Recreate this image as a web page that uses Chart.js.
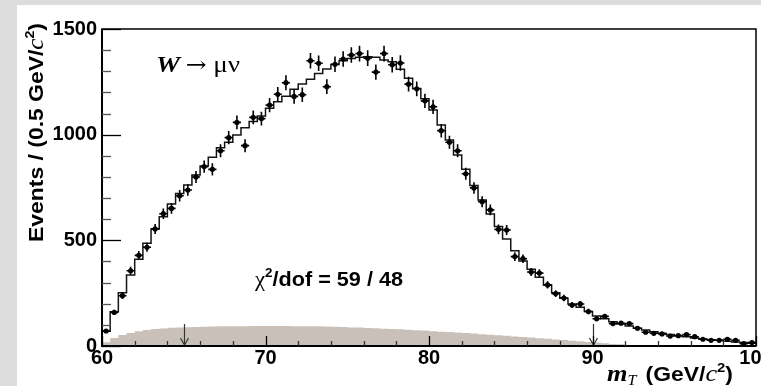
<!DOCTYPE html>
<html>
<head>
<meta charset="utf-8">
<script src="https://cdn.jsdelivr.net/npm/chart.js@4.4.1/dist/chart.umd.min.js"></script>
<style>
html, body { margin: 0; padding: 0; background: #dddddd; }
#wrap { width: 761px; height: 386px; }
</style>
</head>
<body>
<div id="wrap"><canvas id="mt" width="761" height="386"></canvas></div>
<script>
// axis range and binning (0.5 GeV bins)
var xMin = 60, xMax = 100, binWidth = 0.5;
var yMin = 0, yMax = 1500;
var xMajorTicks = [60, 70, 80, 90, 100];
var yMajorTicks = [0, 500, 1000, 1500];
var cutArrows = [65, 90];

// data, events per bin
var dataCounts = [
  71, 159, 238, 356, 429, 467, 554, 626, 651, 711,
  738, 800, 849, 836, 924, 986, 1058, 948, 1082, 1076,
  1140, 1191, 1246, 1181, 1189, 1350, 1338, 1227, 1333, 1358,
  1377, 1384, 1362, 1296, 1384, 1331, 1339, 1239, 1217, 1160,
  1132, 1019, 964, 924, 815, 748, 683, 644, 552, 549,
  423, 413, 350, 345, 289, 248, 227, 194, 199, 163,
  129, 140, 106, 108, 106, 84, 65, 60, 57, 47,
  49, 54, 44, 32, 27, 27, 32, 27, 11, 16
];

// simulation (histogram)
var mcCounts = [
  70, 162, 252, 336, 410, 486, 554, 612, 672, 722,
  762, 809, 852, 893, 938, 964, 998, 1033, 1062, 1088,
  1125, 1156, 1182, 1215, 1240, 1262, 1290, 1311, 1332, 1350,
  1360, 1366, 1369, 1366, 1353, 1345, 1309, 1267, 1219, 1170,
  1117, 1046, 975, 904, 836, 760, 691, 625, 565, 506,
  451, 402, 363, 325, 289, 252, 226, 199, 183, 163,
  142, 129, 115, 104, 95, 84, 76, 68, 60, 54,
  49, 44, 38, 33, 30, 27, 22, 19, 16, 13
];

// background (shaded)
var bkgCounts = [
  18, 38, 52, 62, 70, 76, 80, 83, 86, 88,
  89, 90, 91, 92, 93, 93, 94, 94, 95, 95,
  95, 95, 95, 94, 94, 93, 93, 92, 91, 90,
  88, 87, 85, 84, 82, 80, 79, 77, 75, 73,
  70, 68, 66, 64, 61, 59, 56, 53, 51, 48,
  45, 43, 40, 37, 34, 31, 28, 25, 22, 19,
  16, 13, 10, 8, 5, 3, 2, 1, 0, 0,
  0, 0, 0, 0, 0, 0, 0, 0, 0, 0
];

function binCenter(i) { return xMin + binWidth * (i + 0.5); }

// histogram outline: one point per left edge, plus the last right edge
function stepPoints(vals) {
  var pts = vals.map(function(v, i) { return { x: xMin + binWidth * i, y: v }; });
  pts.push({ x: xMax, y: vals[vals.length - 1] });
  return pts;
}

// text made of several pieces (fonts, super/subscripts), optionally fitted to a width
function rich(c, pieces, x, y, width, rotate) {
  c.save();
  c.translate(x, y);
  if (rotate) c.rotate(-Math.PI / 2);
  var total = 0;
  pieces.forEach(function(p) {
    c.font = p.font;
    p.w = c.measureText(p.t).width + (p.gap || 0);
    total += p.w;
  });
  if (width) c.scale(width / total, 1);
  c.textAlign = 'left';
  c.textBaseline = 'alphabetic';
  c.fillStyle = '#000';
  var cx = 0;
  pieces.forEach(function(p) {
    c.font = p.font;
    c.fillText(p.t, cx, p.dy || 0);
    cx += p.w;
  });
  c.restore();
}

var SANS = '"Liberation Sans", Arial, sans-serif';
var SERIF = '"Liberation Serif", "Times New Roman", serif';

var rootStyle = {
  id: 'rootStyle',
  beforeDraw: function(chart) {
    var c = chart.ctx;
    c.save();
    c.fillStyle = '#dddddd';
    c.fillRect(0, 0, chart.width, chart.height);
    c.fillStyle = '#ffffff';
    c.fillRect(17, 5, chart.width - 17, chart.height - 5);
    c.restore();
  },
  afterDatasetsDraw: function(chart) {
    var c = chart.ctx, xs = chart.scales.x, ys = chart.scales.y, a = chart.chartArea;
    c.save();

    // error bars on the data
    c.strokeStyle = '#000';
    c.lineWidth = 1.6;
    dataCounts.forEach(function(v, i) {
      var xc = binCenter(i), err = Math.sqrt(v);
      var px = xs.getPixelForValue(xc), py = ys.getPixelForValue(v);
      c.beginPath();
      c.moveTo(px, ys.getPixelForValue(v - err));
      c.lineTo(px, ys.getPixelForValue(v + err));
      c.moveTo(xs.getPixelForValue(xc - binWidth / 2), py);
      c.lineTo(xs.getPixelForValue(xc + binWidth / 2), py);
      c.stroke();
    });

    // cut arrows
    c.strokeStyle = '#333';
    c.lineWidth = 1.2;
    cutArrows.forEach(function(xv) {
      var px = Math.round(xs.getPixelForValue(xv)) + 0.5;
      c.beginPath();
      c.moveTo(px, a.bottom - 22);
      c.lineTo(px, a.bottom - 1);
      c.moveTo(px - 4, a.bottom - 8);
      c.lineTo(px, a.bottom - 1);
      c.lineTo(px + 4, a.bottom - 8);
      c.stroke();
    });

    // frame
    c.strokeStyle = '#000';
    c.lineWidth = 1.5;
    c.strokeRect(a.left, a.top, a.right - a.left, a.bottom - a.top);
    c.lineWidth = 2;
    c.beginPath();
    c.moveTo(a.left, a.top);
    c.lineTo(a.left, a.bottom);
    c.lineTo(a.right, a.bottom);
    c.stroke();

    // y ticks, pointing inwards
    c.lineWidth = 1.3;
    for (var yv = yMin; yv <= yMax; yv += 100) {
      var major = yMajorTicks.indexOf(yv) >= 0;
      var py = Math.round(ys.getPixelForValue(yv)) + 0.5;
      c.strokeStyle = major ? '#000' : '#555';
      c.beginPath();
      c.moveTo(a.left, py);
      c.lineTo(a.left + (major ? 19 : 9), py);
      c.stroke();
    }
    // x ticks
    for (var xv = xMin; xv <= xMax; xv += 2) {
      var majorX = xMajorTicks.indexOf(xv) >= 0;
      var px = Math.round(xs.getPixelForValue(xv)) + 0.5;
      c.strokeStyle = majorX ? '#000' : '#333';
      c.beginPath();
      c.moveTo(px, a.bottom);
      c.lineTo(px, a.bottom - (majorX ? 10 : 5));
      c.stroke();
    }

    // tick labels
    c.fillStyle = '#000';
    c.font = 'bold 20px ' + SANS;
    c.textAlign = 'right';
    c.textBaseline = 'middle';
    yMajorTicks.forEach(function(v) {
      c.fillText(String(v), a.left - 5, ys.getPixelForValue(v));
    });
    c.textAlign = 'center';
    c.textBaseline = 'top';
    xMajorTicks.forEach(function(v) {
      c.fillText(String(v), xs.getPixelForValue(v), a.bottom + 2);
    });
    c.restore();

    // axis titles
    rich(c, [
      { t: 'Events / (0.5 GeV/', font: 'bold 21px ' + SANS },
      { t: 'c', font: 'italic 23px ' + SERIF },
      { t: '2', font: 'bold 13px ' + SANS, dy: -9 },
      { t: ')', font: 'bold 21px ' + SANS }
    ], 43, 242, 219, true);

    rich(c, [
      { t: 'm', font: 'italic bold 23px ' + SERIF },
      { t: 'T', font: 'italic 14px ' + SERIF, dy: 4, gap: 8 },
      { t: '(GeV/', font: 'bold 20px ' + SANS },
      { t: 'c', font: 'italic 23px ' + SERIF },
      { t: '2', font: 'bold 13px ' + SANS, dy: -9 },
      { t: ')', font: 'bold 20px ' + SANS }
    ], 607, 381, 126, false);

    // labels inside the frame
    rich(c, [
      { t: 'W', font: 'italic bold 24px ' + SERIF, gap: 5 },
      { t: '\u2192', font: '22px "DejaVu Serif", serif', gap: 6 },
      { t: '\u03bc\u03bd', font: '24px ' + SERIF }
    ], 156, 72, 84, false);

    rich(c, [
      { t: '\u03c7', font: '22px ' + SERIF },
      { t: '2', font: 'bold 13px ' + SANS, dy: -9 },
      { t: '/dof = 59 / 48', font: 'bold 21px ' + SANS }
    ], 255, 286, 148, false);
  }
};

var ctx = document.getElementById('mt').getContext('2d');
var mtChart = new Chart(ctx, {
  type: 'scatter',
  data: {
    datasets: [
      {
        label: 'Data',
        type: 'scatter',
        data: dataCounts.map(function(v, i) { return { x: binCenter(i), y: v }; }),
        pointRadius: 2.6,
        pointBackgroundColor: '#000',
        pointBorderWidth: 0,
        order: 0
      },
      {
        label: 'Simulation',
        type: 'line',
        data: stepPoints(mcCounts),
        stepped: 'before',
        borderColor: '#141414',
        borderWidth: 1.5,
        pointRadius: 0,
        fill: false,
        order: 1
      },
      {
        label: 'Background',
        type: 'line',
        data: stepPoints(bkgCounts),
        stepped: 'before',
        borderColor: 'rgba(0,0,0,0)',
        borderWidth: 1,
        backgroundColor: '#c9c1b9',
        pointRadius: 0,
        fill: 'origin',
        order: 2
      }
    ]
  },
  options: {
    responsive: false,
    animation: false,
    layout: { padding: { left: 102, right: 5, top: 29, bottom: 40 } },
    scales: {
      x: { type: 'linear', min: xMin, max: xMax, display: false },
      y: { type: 'linear', min: yMin, max: yMax, display: false }
    },
    plugins: {
      legend: { display: false },
      tooltip: { enabled: false }
    }
  },
  plugins: [rootStyle]
});
</script>
</body>
</html>
